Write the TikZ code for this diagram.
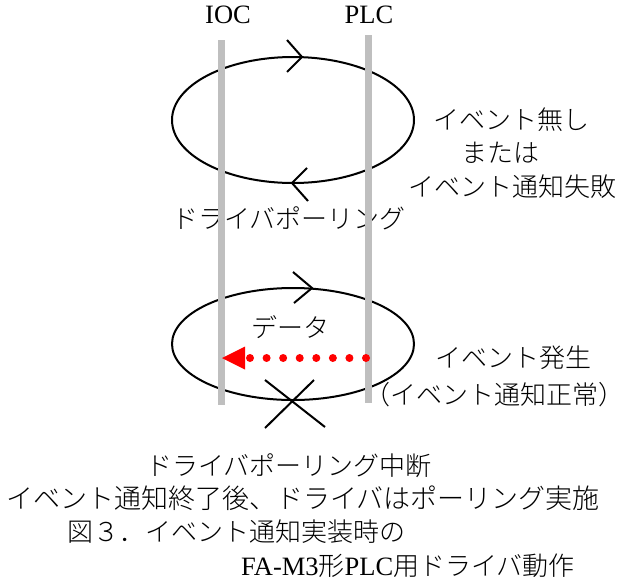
\documentclass[tikz,border=0pt]{standalone}
\usepackage{fontspec}
\setmainfont{Liberation Serif}
\newfontfamily\jp{Noto Sans CJK JP}[UprightFont={* Light}]
\begin{document}
\begin{tikzpicture}[x=1pt,y=-1pt,
  lbl/.style={font=\fontsize{26.5}{30}\selectfont, inner sep=0pt},
  jlbl/.style={font=\fontsize{26}{30}\selectfont\jp, inner sep=0pt, align=center},
  lifeline/.style={draw=black!25, line width=7pt},
  loop/.style={draw=black, line width=2pt},
  chev/.style={draw=black, line width=2pt}]
\useasboundingbox (0,0) rectangle (623,584);
% ellipses
\draw[loop] (293,120) ellipse [x radius=121pt, y radius=63pt];
\draw[loop] (293,344) ellipse [x radius=121pt, y radius=56pt];
% chevrons
\coordinate (c1a) at (287,40); \coordinate (c1t) at (302,57); \coordinate (c1b) at (287,72);
\draw[chev] (c1a) -- (c1t) -- (c1b);
\coordinate (c2a) at (307,168); \coordinate (c2t) at (292,183); \coordinate (c2b) at (308,201);
\draw[chev] (c2a) -- (c2t) -- (c2b);
\coordinate (c3a) at (293,272); \coordinate (c3t) at (312,288); \coordinate (c3b) at (294,303);
\draw[chev] (c3a) -- (c3t) -- (c3b);
% cross
\coordinate (x1) at (265,380); \coordinate (x2) at (325,427);
\coordinate (x3) at (314,380); \coordinate (x4) at (265,428);
\draw[chev] (x1) -- (x2) (x3) -- (x4);
% texts
\node[jlbl] (poll) at (289,218) {ドライバポーリング};
\node[jlbl] (none1) at (511,120) {イベント無し};
\node[jlbl] (none2) at (500,153) {または};
\node[jlbl] (none3) at (512,187) {イベント通知失敗};
\node[jlbl] (data) at (290,327) {データ};
\node[jlbl] (ev1) at (513,358) {イベント発生};
\node[jlbl] (ev2) at (494,395) {（イベント通知正常）};
\node[jlbl] (b1) at (289,466) {ドライバポーリング中断};
\node[jlbl, font=\fontsize{27}{30}\selectfont\jp] (b2) at (303,498) {イベント通知終了後、ドライバはポーリング実施};
\node[jlbl] (b3) at (236,532) {図３．イベント通知実装時の};
\node[lbl] (b4) at (408,566) {FA-M3{\fontsize{26}{30}\selectfont\jp 形}PLC{\fontsize{26}{30}\selectfont\jp 用ドライバ動作}};
% lifelines
\node[lbl] (ioc) at (228,15) {IOC};
\node[lbl] (plc) at (369,15) {PLC};
\coordinate (iocT) at (221,40); \coordinate (iocB) at (221,405);
\coordinate (plcT) at (368,35); \coordinate (plcB) at (368,403);
\draw[lifeline] (iocT) -- (iocB);
\draw[lifeline] (plcT) -- (plcB);
% red event arrow
\coordinate (evsrc) at (366,358);
\coordinate (evmid) at (249,358);
\coordinate (evtip) at (222,358);
\draw[red, line width=8pt, line cap=round, dash pattern=on 0pt off 16.57pt] (evsrc) -- (evmid);
\fill[red] (evtip) -- ([yshift=-11.5pt]evtip -| 245,0) -- ([yshift=11.5pt]evtip -| 245,0) -- cycle;
\end{tikzpicture}
\end{document}
